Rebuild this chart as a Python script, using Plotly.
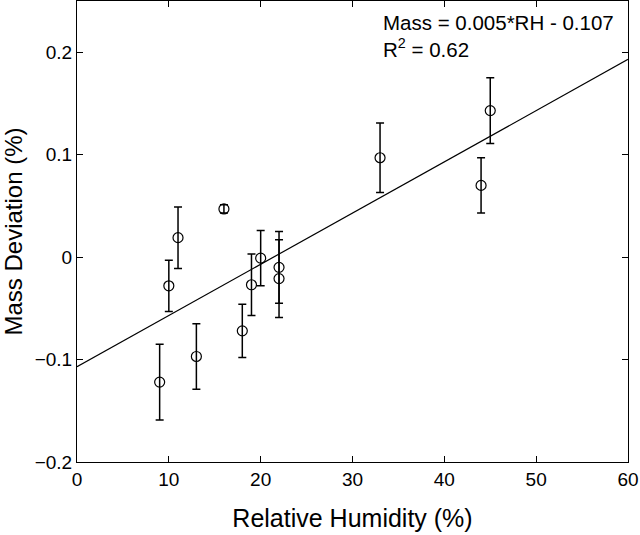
import plotly.graph_objects as go

# humidity (%) vs mass deviation (%) with error bars
rh = [9, 10, 11, 13, 16, 18, 19, 20, 22, 22, 33, 44, 45]
mass_dev = [-0.122, -0.028, 0.019, -0.097, 0.047, -0.072, -0.027, -0.001, -0.010, -0.021, 0.097, 0.070, 0.143]
err = [0.037, 0.025, 0.030, 0.032, 0.004, 0.026, 0.030, 0.027, 0.035, 0.038, 0.034, 0.027, 0.032]

# linear fit
slope = 0.005
intercept = -0.107
fit_x = [0, 60]
fit_y = [slope * x + intercept for x in fit_x]

font = "Liberation Sans, Arial, sans-serif"

fig = go.Figure()
fig.add_trace(go.Scatter(x=fit_x, y=fit_y, mode="lines",
                         line=dict(color="black", width=1.2), showlegend=False))
fig.add_trace(go.Scatter(
    x=rh, y=mass_dev, mode="markers",
    marker=dict(symbol="circle-open", size=10, color="black", line=dict(width=1.2)),
    error_y=dict(type="data", array=err, color="black", thickness=1.5, width=4),
    showlegend=False))

axis = dict(showline=True, linecolor="black", linewidth=1, mirror="ticks",
            ticks="inside", ticklen=6, tickcolor="black", showgrid=False,
            zeroline=False, automargin=False,
            tickfont=dict(size=19, color="black", family=font))

fig.update_xaxes(range=[0, 60], dtick=10, title=dict(text="Relative Humidity (%)",
                 font=dict(size=25, color="black", family=font), standoff=20), **axis)
fig.update_yaxes(range=[-0.2, 0.25], tickvals=[-0.2, -0.1, 0, 0.1, 0.2],
                 ticktext=["\u22120.2", "\u22120.1", "0", "0.1", "0.2"],
                 title=dict(text="Mass Deviation (%)",
                 font=dict(size=24, color="black", family=font), standoff=10), **axis)

fig.add_annotation(x=0, y=1, xref="paper", yref="paper", xanchor="left", yanchor="top",
                   xshift=304, yshift=-8, showarrow=False, align="left",
                   text="Mass = 0.005*RH - 0.107<br>R<sup>2</sup> = 0.62",
                   font=dict(size=20.5, color="black", family=font))

fig.update_layout(width=640, height=535, plot_bgcolor="white", paper_bgcolor="white",
                  margin=dict(l=77, r=12, t=1, b=73))

# drop the browser's default body margin so the figure sits at the page corner
fig.write_html("out.html", config={"displayModeBar": False},
               post_script="document.body.style.margin='0';")
